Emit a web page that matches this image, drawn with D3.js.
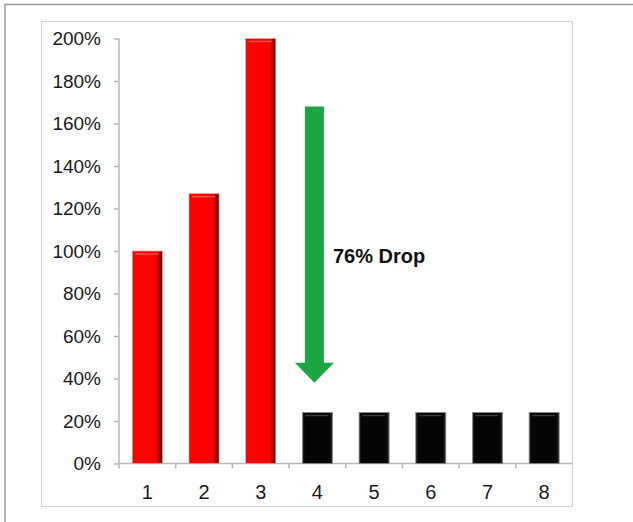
<!DOCTYPE html>
<html>
<head>
<meta charset="utf-8">
<script src="https://cdn.jsdelivr.net/npm/d3@7"></script>
<style>
  html, body { margin: 0; padding: 0; background: #fff; }
  svg { display: block; font-family: "Liberation Sans", Arial, sans-serif; }
</style>
</head>
<body>
<svg id="chart" width="633" height="522"></svg>
<script>
// Categories and values (percent of baseline)
const categories = [1, 2, 3, 4, 5, 6, 7, 8];
const values = [100, 127, 200, 24, 24, 24, 24, 24];
const barKinds = ["red", "red", "red", "black", "black", "black", "black", "black"];
const yTicks = [0, 20, 40, 60, 80, 100, 120, 140, 160, 180, 200];

// Drop annotation: arrow runs from arrowFrom down to arrowTo over category 4
const dropLabel = "76% Drop";
const arrowCategory = 4;
const arrowFrom = 168;
const arrowTo = 38;
const labelAt = 94.5;

const svg = d3.select("#chart");

// Outer frame (top and left edges)
svg.append("path")
  .attr("d", "M5,522 V4.5 H633")
  .attr("fill", "none")
  .attr("stroke", "#9a9a9a")
  .attr("stroke-width", 1.5);

// Inner plot frame
svg.append("rect")
  .attr("x", 41.5).attr("y", 21.5)
  .attr("width", 531).attr("height", 485)
  .attr("fill", "#fff")
  .attr("stroke", "#d2d2d2")
  .attr("stroke-width", 1);

const x = d3.scaleBand()
  .domain(categories)
  .range([119, 572.5])
  .paddingInner(0.47)
  .paddingOuter(0.235);

const y = d3.scaleLinear()
  .domain([0, 200])
  .range([463.5, 38.5]);

// Bar shading
const defs = svg.append("defs");
const redGrad = defs.append("linearGradient").attr("id", "redGrad")
  .attr("x1", 0).attr("x2", 1).attr("y1", 0).attr("y2", 0);
[[0, "#c40000"], [0.06, "#ff0000"], [0.78, "#ff0000"], [0.9, "#b00000"], [1, "#3a0000"]]
  .forEach(([o, c]) => redGrad.append("stop").attr("offset", o).attr("stop-color", c));

const blackGrad = defs.append("linearGradient").attr("id", "blackGrad")
  .attr("x1", 0).attr("x2", 1).attr("y1", 0).attr("y2", 0);
[[0, "#2a2a2a"], [0.08, "#050505"], [0.9, "#050505"], [1, "#2a2a2a"]]
  .forEach(([o, c]) => blackGrad.append("stop").attr("offset", o).attr("stop-color", c));

// Y axis
const yAxis = svg.append("g")
  .attr("transform", `translate(${x.range()[0]},0)`)
  .call(d3.axisLeft(y)
    .tickValues(yTicks)
    .tickFormat(d => d + "%")
    .tickSize(5)
    .tickSizeOuter(0)
    .tickPadding(13));
yAxis.select(".domain").attr("stroke", "#b8b8b8").attr("stroke-width", 1.5)
  .attr("d", `M0,${y(200)}V${y(0) + 5}`);
yAxis.selectAll(".tick line").attr("stroke", "#b8b8b8").attr("stroke-width", 1.5);
yAxis.selectAll(".tick text")
  .attr("font-size", 19)
  .attr("fill", "#1a1a1a")
  .attr("font-family", "'Liberation Sans', Arial, sans-serif");

// X axis line with ticks between categories
const bounds = categories.slice(1).map(c => x(c) - x.step() * x.paddingInner() / 2);
const xAxis = svg.append("g").attr("transform", `translate(0,${y(0)})`);
xAxis.append("line")
  .attr("x1", x.range()[0]).attr("x2", x.range()[1])
  .attr("stroke", "#b8b8b8").attr("stroke-width", 1.5);
xAxis.selectAll("line.tick").data(bounds).join("line")
  .attr("class", "tick")
  .attr("x1", d => d).attr("x2", d => d)
  .attr("y1", 0).attr("y2", 5)
  .attr("stroke", "#b8b8b8").attr("stroke-width", 1.5);
xAxis.selectAll("text").data(categories).join("text")
  .attr("x", d => x(d) + x.bandwidth() / 2)
  .attr("y", 35)
  .attr("text-anchor", "middle")
  .attr("font-size", 20)
  .attr("fill", "#1a1a1a")
  .text(d => d);

// Bars
const bars = svg.append("g");
const data = categories.map((c, i) => ({ c, v: values[i], kind: barKinds[i] }));
bars.selectAll("rect.bar").data(data).join("rect")
  .attr("class", "bar")
  .attr("x", d => x(d.c))
  .attr("y", d => y(d.v))
  .attr("width", x.bandwidth())
  .attr("height", d => y(0) - y(d.v))
  .attr("fill", d => d.kind === "red" ? "url(#redGrad)" : "url(#blackGrad)")
  .attr("stroke", d => d.kind === "red" ? "#e9a0a0" : "#8a8a8a")
  .attr("stroke-width", 0.8);

// Top bevel highlight on each bar
bars.selectAll("line.bevel").data(data).join("line")
  .attr("class", "bevel")
  .attr("x1", d => x(d.c) + 3)
  .attr("x2", d => x(d.c) + x.bandwidth() - 4)
  .attr("y1", d => y(d.v) + 3)
  .attr("y2", d => y(d.v) + 3)
  .attr("stroke", d => d.kind === "red" ? "#ff5050" : "#3a3a3a")
  .attr("stroke-width", 1.5);

// Drop arrow
const ax = x(arrowCategory) + x.bandwidth() / 2 - 3;
const shaftW = 19, headW = 39, headH = 20;
const yTop = y(arrowFrom), yTip = y(arrowTo);
svg.append("path")
  .attr("d", `M${ax - shaftW / 2},${yTop} H${ax + shaftW / 2} V${yTip - headH}
              H${ax + headW / 2} L${ax},${yTip} L${ax - headW / 2},${yTip - headH}
              H${ax - shaftW / 2} Z`)
  .attr("fill", "#1ba643");

svg.append("text")
  .attr("x", ax + shaftW / 2 + 9)
  .attr("y", y(labelAt))
  .attr("font-size", 20)
  .attr("font-weight", "bold")
  .attr("fill", "#111")
  .text(dropLabel);
</script>
</body>
</html>
